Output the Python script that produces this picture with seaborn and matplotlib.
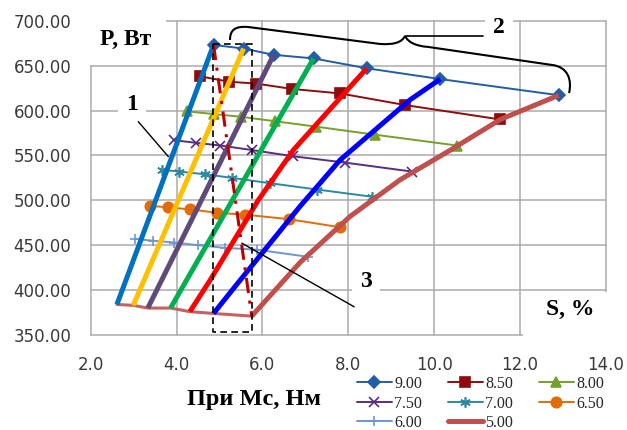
import matplotlib
matplotlib.use("Agg")
import matplotlib.pyplot as plt
from matplotlib.patches import Rectangle, PathPatch
from matplotlib.path import Path
import seaborn as sns

# ---------------- data ----------------
series_labels = ["9.00", "8.50", "8.00", "7.50", "7.00", "6.50", "6.00", "5.00"]
mc_900_x = [4.86, 5.56, 6.26, 7.19, 8.43, 10.14, 12.90]
mc_900_y = [673, 669, 662, 658, 647, 635, 617]
mc_850_x = [4.55, 5.23, 5.85, 6.69, 7.81, 9.33, 11.54]
mc_850_y = [638, 632, 630, 624, 619, 606, 590]
mc_800_x = [4.25, 4.88, 5.50, 6.30, 7.25, 8.63, 10.53]
mc_800_y = [599, 596, 593, 588, 582, 573, 561]
mc_750_x = [3.93, 4.45, 5.02, 5.75, 6.72, 7.92, 9.48]
mc_750_y = [567, 564, 561, 556, 549, 542, 532]
mc_700_x = [3.65, 4.06, 4.66, 5.29, 6.18, 7.27, 8.55]
mc_700_y = [534, 532, 529, 525, 519, 512, 504]
mc_650_x = [3.38, 3.81, 4.31, 4.94, 5.60, 6.61, 7.81]
mc_650_y = [494, 492, 490, 486, 484, 479, 470]
mc_600_x = [3.03, 3.45, 3.95, 4.50, 5.13, 5.87, 7.07]
mc_600_y = [457, 455, 453, 450, 447, 445, 437]
mc_500_x = [2.61, 2.99, 3.33, 3.86, 4.31, 4.86, 5.75]
mc_500_y = [384, 383, 380, 380, 376, 374, 371]

# steep characteristic lines (from 5.00 series up to 9.00 series)
steep_a_x = [2.61, 4.86]
steep_a_y = [384, 673]
steep_b_x = [2.99, 5.56]
steep_b_y = [383, 669]
steep_c_x = [3.33, 6.26]
steep_c_y = [380, 662]
steep_d_x = [3.86, 7.19]
steep_d_y = [380, 658]
steep_e_x = [4.31, 4.78, 5.90, 6.72, 8.43]
steep_e_y = [376, 411, 500, 556, 647]
steep_f_x = [4.86, 5.48, 6.87, 7.81, 9.44, 10.14]
steep_f_y = [374, 411, 493, 545, 612, 635]
envelope_x = [5.75, 6.88, 8.04, 9.21, 10.38, 11.54, 12.90]
envelope_y = [371, 431, 482, 523, 556, 590, 617]

# dash-dot line (annotation 3)
min_line_x = [4.86, 5.75]
min_line_y = [673, 371]

x_ticks = [2.0, 4.0, 6.0, 8.0, 10.0, 12.0, 14.0]
y_ticks = [350, 400, 450, 500, 550, 600, 650, 700]

# ---------------- style ----------------
sns.set_theme(style="white")
SERIF = ["Liberation Serif", "DejaVu Serif"]
plt.rcParams["font.family"] = ["DejaVu Sans"]

fig = plt.figure(figsize=(6.27, 4.30), dpi=100)
ax = fig.add_axes([0.14466, 0.22093, 0.82185, 0.73093])

series = [
    (series_labels[0], mc_900_x, mc_900_y, "#245DA5", "D", 6.0, 1.4),
    (series_labels[1], mc_850_x, mc_850_y, "#8E0C0C", "s", 7.0, 1.4),
    (series_labels[2], mc_800_x, mc_800_y, "#76A02C", "^", 7.0, 1.4),
    (series_labels[3], mc_750_x, mc_750_y, "#5A2D82", "x", 6.5, 1.4),
    (series_labels[4], mc_700_x, mc_700_y, "#2A8AA5", (6, 2, 0), 7.5, 1.4),
    (series_labels[5], mc_650_x, mc_650_y, "#E36C0A", "o", 7.5, 1.4),
    (series_labels[6], mc_600_x, mc_600_y, "#6F96D1", "+", 7.0, 1.4),
    (series_labels[7], mc_500_x, mc_500_y, "#C46260", None, 0, 2.2),
]

handles = {}
for lbl, xs, ys, col, mk, ms, lw in series:
    kw = dict(color=col, lw=lw, zorder=3)
    if mk is not None:
        kw.update(marker=mk, markersize=ms, markeredgecolor=col,
                  markerfacecolor=col, markeredgewidth=1.2)
    sns.lineplot(x=xs, y=ys, sort=False, estimator=None, ax=ax,
                 label=lbl, **kw)
    handles[lbl] = ax.lines[-1]

steep = [
    (steep_a_x, steep_a_y, "#0070C0"),
    (steep_b_x, steep_b_y, "#FFC000"),
    (steep_c_x, steep_c_y, "#604A7B"),
    (steep_d_x, steep_d_y, "#00B050"),
    (steep_e_x, steep_e_y, "#FF0000"),
    (steep_f_x, steep_f_y, "#0000FF"),
    (envelope_x, envelope_y, "#C0504D"),
]
for xs, ys, col in steep:
    sns.lineplot(x=xs, y=ys, sort=False, estimator=None, ax=ax, color=col,
                 lw=3.6, zorder=4, solid_capstyle="butt", legend=False)

sns.lineplot(x=min_line_x, y=min_line_y, sort=False, estimator=None, ax=ax,
             color="#C00000", lw=2.2, zorder=6, legend=False,
             linestyle=(0, (5, 2.5, 1, 2.5)))

if ax.get_legend() is not None:
    ax.get_legend().remove()

# axes
ax.set_xlim(2, 14)
ax.set_ylim(350, 700)
ax.set_xticks(x_ticks)
ax.set_yticks(y_ticks)
ax.set_xticklabels([f"{v:.1f}" for v in x_ticks])
ax.set_yticklabels([f"{v:.2f}" for v in y_ticks])
ax.set_xlabel("")
ax.set_ylabel("")
for s in ax.spines.values():
    s.set_visible(False)
ax.set_axisbelow(True)
ax.grid(True, color="#ABABAB", lw=1.1)
for gl in ax.get_xgridlines() + ax.get_ygridlines():
    gl.set_clip_on(False)
ax.tick_params(axis="both", length=0, labelsize=12, labelcolor="#3A3A3A")
ax.tick_params(axis="x", pad=15)
ax.tick_params(axis="y", pad=14)

# white label boxes
ax.add_patch(Rectangle((1.8, 651.2), 1.95, 62, facecolor="white",
                       edgecolor="none", zorder=1, clip_on=False))
ax.add_patch(Rectangle((12.07, 343), 2.4, 55, facecolor="white",
                       edgecolor="none", zorder=1, clip_on=False))

bold = dict(family=SERIF, weight="bold", color="black")
ax.text(2.82, 679.1, "P, Вт", ha="center", va="center", fontsize=17,
        zorder=8, **bold)
ax.text(13.16, 378.0, "S, %", ha="center", va="center", fontsize=17,
        zorder=8, **bold)
box = dict(facecolor="white", edgecolor="none", pad=6)
ax.text(2.955, 606.2, "1", ha="center", va="center", fontsize=17,
        zorder=2, bbox=box, **bold)
ax.text(11.51, 691.9, "2", ha="center", va="center", fontsize=17,
        zorder=2, bbox=box, clip_on=False, **bold)
ax.text(8.41, 409.6, "3", ha="center", va="center", fontsize=17,
        zorder=2, bbox=box, **bold)

# leader lines
ax.plot([3.108, 3.807], [587.6, 548.7], color="black", lw=1.0, zorder=7)
ax.plot([9.34, 11.14], [683.0, 683.0], color="black", lw=1.2, zorder=7,
        clip_on=False)
ax.plot([5.517, 8.136], [452.3, 381.4], color="black", lw=1.0, zorder=7)

# brace (annotation 2)
verts = [(5.244, 678.5),
         (5.244, 689.7), (5.36, 694.1), (5.663, 693.0),
         (8.737, 674.1),
         (9.087, 673.0), (9.25, 676.3), (9.32, 683.0),
         (9.39, 676.3), (9.553, 671.9), (9.856, 670.8),
         (12.744, 650.7),
         (13.117, 648.5), (13.21, 634.0), (13.14, 619.5)]
codes = [Path.MOVETO] + [Path.CURVE4] * 3 + [Path.LINETO] + \
        [Path.CURVE4] * 6 + [Path.LINETO] + [Path.CURVE4] * 3
ax.add_patch(PathPatch(Path(verts, codes), facecolor="none",
                       edgecolor="black", lw=1.5, zorder=7, clip_on=False))

# dashed frame
frame_x = [4.84, 5.76, 5.76, 4.84, 4.84]
frame_y = [674, 674, 353, 353, 674]
ax.plot(frame_x, frame_y, color="black", lw=1.2, zorder=7,
        linestyle=(0, (4, 2.6)))

# x label
fig.text(254 / 627, 1 - 399 / 430, "При Мс, Нм", ha="center", va="center",
         fontsize=17.5, **bold)

# legend (row-wise order as in reference)
order = ["9.00", "7.50", "6.00", "8.50", "7.00", "5.00", "8.00", "6.50"]
leg = fig.legend([handles[k] for k in order], order, ncol=3,
                 loc="upper left",
                 bbox_to_anchor=(356.7 / 627, 1 - 376 / 430),
                 frameon=False, borderpad=0, borderaxespad=0,
                 handlelength=2.2, handletextpad=0.15, columnspacing=1.6,
                 labelspacing=0.22,
                 prop=dict(family=SERIF, size=11.5))
for line, txt in zip(leg.get_lines(), leg.get_texts()):
    if txt.get_text() == "5.00":
        line.set_linewidth(3.6)
        line.set_color("#C0504D")

fig.savefig("out.png", dpi=100)
